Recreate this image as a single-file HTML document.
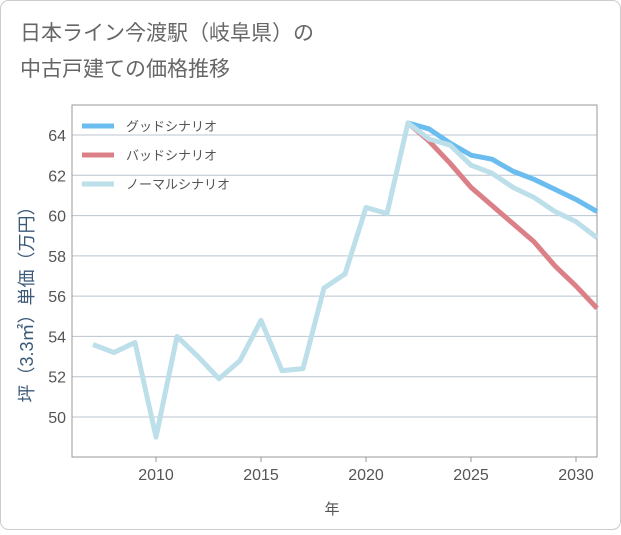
<!DOCTYPE html>
<html><head><meta charset="utf-8"><style>
body{margin:0;background:#fff;font-family:"Liberation Sans","Noto Sans CJK JP",sans-serif;}
#wrap{position:relative;width:621px;height:530px;}
</style></head><body>
<div id="wrap">
<svg id="chart" width="621" height="530">
<rect x="0.5" y="0.5" width="620" height="529" rx="8" fill="#fff" stroke="#ccc"/>
<text x="20" y="40" font-size="21" fill="#666">日本ライン今渡駅（岐阜県）の</text>
<text x="20" y="76" font-size="21" fill="#666">中古戸建ての価格推移</text>
<g id="grid"></g><g id="axes"></g><g id="series"></g><g id="legend"></g>
<text x="332" y="514" font-size="15" fill="#555" text-anchor="middle">年</text>
<text transform="translate(33,300) rotate(-90)" font-size="18" fill="#3c5a78" text-anchor="middle">坪（3.3㎡）単価（万円）</text>
</svg></div>
<script>
const years=[2007,2008,2009,2010,2011,2012,2013,2014,2015,2016,2017,2018,2019,2020,2021,2022,2023,2024,2025,2026,2027,2028,2029,2030,2031];
const normalVals=[53.6,53.2,53.7,49.0,54.0,53.0,51.9,52.8,54.8,52.3,52.4,56.4,57.1,60.4,60.1,64.6,63.8,63.5,62.5,62.1,61.4,60.9,60.2,59.7,58.9];
const futureYears=[2022,2023,2024,2025,2026,2027,2028,2029,2030,2031];
const goodVals=[64.6,64.3,63.6,63.0,62.8,62.2,61.8,61.3,60.8,60.2];
const badVals=[64.6,63.7,62.6,61.4,60.5,59.6,58.7,57.5,56.5,55.4];
const yTicks=[50,52,54,56,58,60,62,64];
const xTicks=[2010,2015,2020,2025,2030];
const legendLabels=["グッドシナリオ","バッドシナリオ","ノーマルシナリオ"];
const L=72,R=597,T=105,B=457;
const xs=y=>156+(y-2010)*21;
const ys=v=>135+(64-v)*(282/14);
const NS="http://www.w3.org/2000/svg";
function mk(tag,attrs,parent){const e=document.createElementNS(NS,tag);for(const k in attrs)e.setAttribute(k,attrs[k]);document.getElementById(parent).appendChild(e);return e;}
yTicks.forEach(v=>{
 const g=mk('line',{x1:L,x2:R,y1:ys(v),y2:ys(v),stroke:'#b8c4d0','stroke-width':1},'grid');
 
 
 const t=mk('text',{x:L-6,y:ys(v)+6,'font-size':16,fill:'#555','text-anchor':'end'},'axes');
 t.textContent=v;
 
 
});
xTicks.forEach(y=>{
 const t=mk('text',{x:xs(y),y:B+23,'font-size':16,fill:'#555','text-anchor':'middle'},'axes');
 t.textContent=y;
 
 
 const k=mk('line',{x1:xs(y),x2:xs(y),y1:B,y2:B+5,stroke:'#999'},'axes');
 
 
});
const fr=mk('rect',{x:L,y:T,width:R-L,height:B-T,fill:'none',stroke:'#999'},'axes');


function line(xv,yv,color,name){
 const p=mk('polyline',{points:xv.map((x,i)=>xs(x)+','+ys(yv[i])).join(' '),fill:'none',stroke:color,'stroke-width':5,'stroke-linejoin':'round'},'series');
 
 
}
line(futureYears,goodVals,'#6bbdf0','good-scenario-line');
line(futureYears,badVals,'#dc8088','bad-scenario-line');
line(years,normalVals,'#bcdfea','normal-scenario-line');
const cols=['#6bbdf0','#dc8088','#bcdfea'];
legendLabels.forEach((s,i)=>{
 const y=126+i*29;
 const l=mk('line',{x1:82,x2:114,y1:y,y2:y,stroke:cols[i],'stroke-width':5},'legend');
 
 
 const t=mk('text',{x:126,y:y+5,'font-size':13,fill:'#555'},'legend');
 t.textContent=s;
 
 
});
</script>
</body></html>
